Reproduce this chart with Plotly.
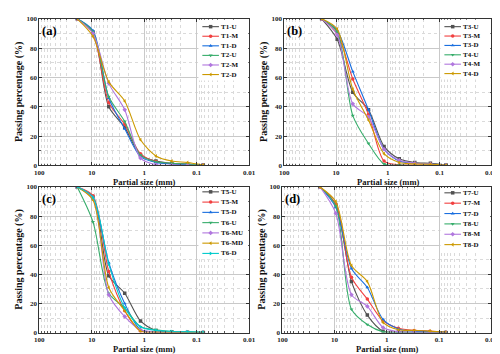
import plotly.graph_objects as go

# sieve sizes (mm)
sizes = [19, 9.5, 4.75, 2.36, 1.18, 0.6, 0.3, 0.15, 0.075]

# panel (a)
names_a = ["T1-U", "T1-M", "T1-D", "T2-U", "T2-M", "T2-D"]
vals_a = [
    [100, 91, 40, 26, 7, 3, 1.5, 1, 0.3],
    [100, 90, 43, 28, 8, 2.5, 1.2, 0.8, 0.2],
    [100, 92, 46, 25, 6, 2, 1, 0.6, 0.2],
    [100, 91, 47, 30, 7, 2.5, 1.5, 1, 0.3],
    [100, 90, 56, 38, 5, 0.5, 0.2, 0.1, 0],
    [100, 88, 57, 44, 17.5, 6.5, 3, 2, 0.3],
]
# panel (b)
names_b = ["T3-U", "T3-M", "T3-D", "T4-U", "T4-M", "T4-D"]
vals_b = [
    [100, 86, 50, 38, 13, 4.5, 2, 1.5, 0.3],
    [100, 90, 59, 35, 3, 0.5, 0.2, 0.1, 0],
    [100, 92, 64, 38, 11, 3, 1.5, 1, 0.3],
    [100, 91, 34, 15, 1, 0.2, 0, 0, 0],
    [100, 89, 42, 33, 11, 3.5, 1.5, 1, 0.2],
    [100, 93, 52, 31, 8, 2, 1, 0.8, 0.2],
]
# panel (c)
names_c = ["T5-U", "T5-M", "T5-D", "T6-U", "T6-MU", "T6-MD", "T6-D"]
vals_c = [
    [100, 93, 39, 27, 8, 1.5, 0.5, 0.3, 0.1],
    [100, 94, 42, 15, 1, 0.3, 0.1, 0, 0],
    [100, 92, 48, 20, 2, 0.5, 0.2, 0.1, 0],
    [100, 76, 27, 17, 4, 2, 0.8, 0.5, 0.2],
    [100, 92, 26, 11, 2, 0.5, 0.2, 0.1, 0],
    [100, 91, 31, 15, 1, 0.3, 0.1, 0, 0],
    [100, 93, 47, 17, 4, 1.5, 0.8, 0.5, 0.2],
]
# panel (d)
names_d = ["T7-U", "T7-M", "T7-D", "T8-U", "T8-M", "T8-D"]
vals_d = [
    [100, 88, 35, 12, 1, 0.5, 0.2, 0.1, 0],
    [100, 88, 38, 23, 8, 3, 1.5, 1, 0.3],
    [100, 86, 44, 31, 9, 2.5, 1, 0.8, 0.2],
    [100, 87, 16, 5.5, 0.5, 0, 0, 0, 0],
    [100, 82, 26, 18, 3.5, 0.5, 0.2, 0.1, 0],
    [100, 90, 46, 35, 7, 2, 1.5, 1, 0.3],
]
panel_labels = ["(a)", "(b)", "(c)", "(d)"]

colors = ["#515151", "#F14040", "#1A6FDF", "#37AD6B", "#B177DE", "#CC9900", "#00CBCC"]
symbols = ["square", "circle", "triangle-up", "triangle-down", "diamond", "triangle-left", "triangle-right"]
FONT = "Liberation Serif"

W, H = 500, 354
# plot areas in pixels: (left, right, top, bottom)
boxes = [(27, 242, 7, 157), (278, 490, 7, 157), (27, 242, 179, 328), (276, 490, 179, 328)]
# legend: first row offset from top, row step
leg_rows = [(8, 9.8), (8, 9.6), (5, 10.5), (6, 10.6)]

fig = go.Figure()
panels = [(names_a, vals_a), (names_b, vals_b), (names_c, vals_c), (names_d, vals_d)]
for p, (names, vals) in enumerate(panels):
    suf = "" if p == 0 else str(p + 1)
    for i, (n, v) in enumerate(zip(names, vals)):
        fig.add_trace(go.Scatter(
            x=sizes, y=v, name=n, mode="lines+markers", showlegend=False,
            line=dict(color=colors[i], width=1.1, shape="spline", smoothing=0.8),
            marker=dict(symbol=symbols[i], size=3.5, color=colors[i]),
            xaxis="x" + suf, yaxis="y" + suf,
        ))

    l, r, t, b = boxes[p]
    xd = [l / W, r / W]
    yd = [1 - b / H, 1 - t / H]
    axis_common = dict(
        showline=True, linecolor="#333", linewidth=1, mirror="allticks",
        ticks="inside", ticklen=3, tickcolor="#333",
        showgrid=True, gridcolor="#c9c9c9", gridwidth=0.8,
        tickfont=dict(family=FONT, size=7, color="#222", weight="bold"),
        zeroline=False,
    )
    fig.layout["xaxis" + suf] = dict(
        axis_common, type="log", range=[2, -2], domain=xd,
        anchor="y" + suf,
        tickvals=[100, 10, 1, 0.1, 0.01], ticktext=["100", "10", "1", "0.1", "0.01"],
        minor=dict(dtick="D1", showgrid=True, gridcolor="#dadada", griddash="dot",
                   ticks="inside", ticklen=1.5, tickcolor="#555"),
    )
    fig.layout["yaxis" + suf] = dict(
        axis_common, range=[0, 100], domain=yd, anchor="x" + suf,
        dtick=20, minor=dict(dtick=10, showgrid=True, gridcolor="#dadada", griddash="dot",
                             ticks="inside", ticklen=1.5, tickcolor="#555"),
    )
    # axis titles
    fig.add_annotation(
        text="Partial size (mm)", x=(l + r) / 2 / W, y=1 - (b + 16.5) / H,
        xref="paper", yref="paper", xanchor="center", yanchor="middle", showarrow=False,
        borderpad=0, font=dict(family=FONT, size=8.5, color="#111", weight="bold"),
    )
    fig.add_annotation(
        text="Passing percentage (%)", x=(l - 21) / W, y=1 - (t + b) / 2 / H,
        xref="paper", yref="paper", xanchor="center", yanchor="middle", showarrow=False,
        textangle=-90, font=dict(family=FONT, size=10, color="#111", weight="bold"),
    )
    fig.add_annotation(
        text=panel_labels[p], x=(l + 1) / W, y=1 - (t + 3) / H, xref="paper", yref="paper",
        xanchor="left", yanchor="top", showarrow=False,
        font=dict(family=FONT, size=12.5, color="#000", weight="bold"),
    )

    # compact legend drawn on a full-page pixel overlay
    y0, step = leg_rows[p]
    nrow = len(names)
    bx0, bx1 = r - 52, r - 1
    by0, by1 = t + 1, t + y0 + step * (nrow - 1) + 6
    fig.add_trace(go.Scatter(
        x=[bx0, bx1, bx1, bx0, bx0], y=[by0, by0, by1, by1, by0],
        mode="lines", fill="toself", fillcolor="white", line=dict(width=0),
        showlegend=False, hoverinfo="skip", xaxis="x5", yaxis="y5",
    ))
    for i, n in enumerate(names):
        yy = t + y0 + step * i
        lx0, lx1 = r - 48, r - 31
        fig.add_trace(go.Scatter(
            x=[lx0, lx1], y=[yy, yy], mode="lines",
            line=dict(color=colors[i], width=1.1),
            showlegend=False, hoverinfo="skip", xaxis="x5", yaxis="y5",
        ))
        fig.add_trace(go.Scatter(
            x=[(lx0 + lx1) / 2], y=[yy], mode="markers",
            marker=dict(symbol=symbols[i], size=3.5, color=colors[i]),
            showlegend=False, hoverinfo="skip", xaxis="x5", yaxis="y5",
        ))
        fig.add_annotation(
            text=n, x=(r - 30) / W, y=1 - yy / H, xref="paper", yref="paper",
            xanchor="left", yanchor="middle", showarrow=False, borderpad=0,
            font=dict(family=FONT, size=7, color="#111", weight="bold"),
        )

fig.update_layout(
    width=W, height=H, margin=dict(l=0, r=0, t=0, b=0),
    paper_bgcolor="white", plot_bgcolor="rgba(0,0,0,0)",
    xaxis5=dict(domain=[0, 1], range=[0, W], visible=False, anchor="y5", fixedrange=True),
    yaxis5=dict(domain=[0, 1], range=[H, 0], visible=False, anchor="x5", fixedrange=True),
)

fig.write_html("out.html")
